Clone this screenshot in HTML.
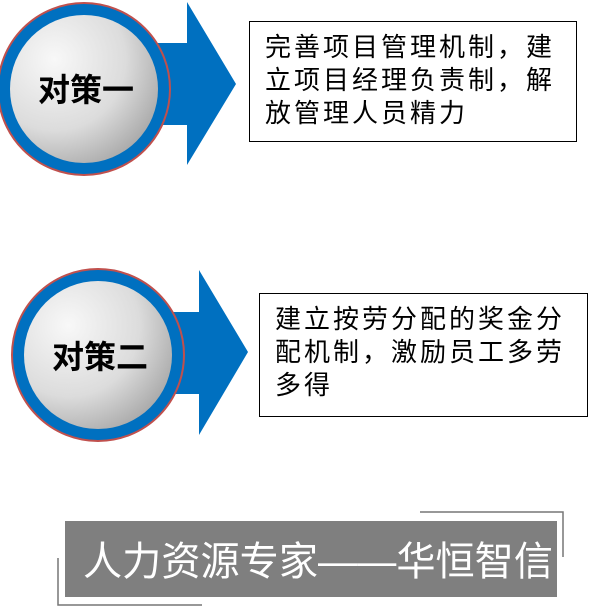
<!DOCTYPE html>
<html><head><meta charset="utf-8"><style>
body{margin:0;width:612px;height:612px;background:#fff;position:relative;overflow:hidden;font-family:"Liberation Sans","Noto Sans CJK SC",sans-serif}
.box{position:absolute;border:1px solid #000;background:#fff;font-size:26px;line-height:33px;letter-spacing:3px;color:#000;box-sizing:border-box;padding:9px 0 0 15px;white-space:nowrap}
</style></head><body>
<svg width="612" height="612" style="position:absolute;left:0;top:0">
<defs><radialGradient id="g" cx="0.3" cy="0.3" r="0.8"><stop offset="0" stop-color="#f8f8f8"/><stop offset="0.6" stop-color="#dcdcdc"/><stop offset="1" stop-color="#a8a8a8"/></radialGradient></defs>
<polygon points="150,43 187,43 187,2 236,84 187,165 187,125 150,125" fill="#0070c0"/>
<circle cx="84" cy="89" r="86" fill="#0070c0" stroke="#c0504d" stroke-width="2"/>
<circle cx="84" cy="89" r="74" fill="url(#g)"/>
<text x="86" y="101" text-anchor="middle" font-size="32" font-weight="bold" font-family="Liberation Sans,Noto Sans CJK SC,sans-serif">对策一</text>
<polygon points="162,312 199,312 199,270 248,352 199,435 199,394 162,394" fill="#0070c0"/>
<circle cx="98" cy="355" r="86" fill="#0070c0" stroke="#c0504d" stroke-width="2"/>
<circle cx="98" cy="355" r="74" fill="url(#g)"/>
<text x="100" y="368" text-anchor="middle" font-size="32" font-weight="bold" font-family="Liberation Sans,Noto Sans CJK SC,sans-serif">对策二</text>
<rect x="65" y="521" width="492" height="76" fill="#7f7f7f"/>
<polyline points="420,512 563,512 563,557" fill="none" stroke="#777" stroke-width="1.5"/>
<polyline points="58,558 58,605 202,605" fill="none" stroke="#777" stroke-width="1.5"/>
<text x="83" y="575" textLength="470" lengthAdjust="spacingAndGlyphs" font-size="40" fill="#fff" font-family="Liberation Sans,Noto Sans CJK SC,sans-serif">人力资源专家——华恒智信</text>
</svg>
<div class="box" style="left:249px;top:21px;width:328px;height:121px">完善项目管理机制，建<br>立项目经理负责制，解<br>放管理人员精力</div>
<div class="box" style="left:259px;top:293px;width:329px;height:124px">建立按劳分配的奖金分<br>配机制，激励员工多劳<br>多得</div>
</body></html>
